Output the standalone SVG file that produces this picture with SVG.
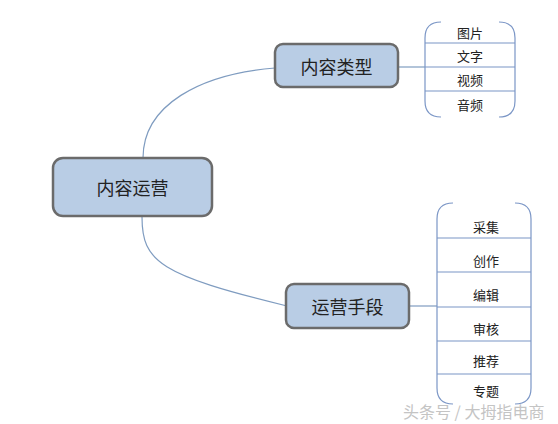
<svg xmlns="http://www.w3.org/2000/svg" width="558" height="424" viewBox="0 0 558 424">
<style>
.node{fill:#b9cde5;stroke:#6b6b6b;stroke-width:2.5}
.conn{fill:none;stroke:#7f9cc0;stroke-width:1.2}
.list{fill:none;stroke:#7b96c6;stroke-width:1.2}
.t{font-family:"Noto Sans CJK SC","Liberation Sans",sans-serif;fill:#222;text-anchor:middle;dominant-baseline:central}
.big{font-size:18px}
.mid{font-size:18px}
.sm{font-size:13px}
.wm{font-family:"Noto Sans CJK SC","Liberation Sans",sans-serif;font-size:16px;fill:#c4c4c4}
</style>
<rect width="558" height="424" fill="#ffffff"/>
<g id="connectors">
<path class="conn" d="M143,158 C143,105 200,74 275,68"/>
<path class="conn" d="M142,217 C142,262 160,275 287,306"/>
<path class="conn" d="M398,67 L425,67"/>
<path class="conn" d="M409,306 L437,306"/>
</g>
<g id="node-main">
<rect class="node" x="53" y="158" width="159" height="58" rx="10"/>
<text class="t big" x="132.5" y="187">内容运营</text>
</g>
<g id="node-type">
<rect class="node" x="275" y="44" width="123" height="43" rx="8"/>
<text class="t mid" x="336.5" y="65.5">内容类型</text>
</g>
<g id="node-means">
<rect class="node" x="286" y="284" width="123" height="44" rx="8"/>
<text class="t mid" x="347.5" y="306">运营手段</text>
</g>
<g id="list-type">
<path class="list" d="M441,22 Q425,22 425,38 L425,101 Q425,117 441,117"/>
<path class="list" d="M499,22 Q515,22 515,38 L515,101 Q515,117 499,117"/>
<path class="list" d="M425,43 H515 M425,67 H515 M425,91 H515"/>
<text class="t sm" x="470" y="32">图片</text>
<text class="t sm" x="470" y="55">文字</text>
<text class="t sm" x="470" y="79">视频</text>
<text class="t sm" x="470" y="104">音频</text>
</g>
<g id="list-means">
<path class="list" d="M453,203 Q437,203 437,219 L437,388 Q437,404 453,404"/>
<path class="list" d="M515,203 Q531,203 531,219 L531,388 Q531,404 515,404"/>
<path class="list" d="M437,238 H531 M437,272 H531 M437,307 H531 M437,341 H531 M437,374 H531"/>
<text class="t sm" x="486" y="226">采集</text>
<text class="t sm" x="486" y="260">创作</text>
<text class="t sm" x="486" y="294">编辑</text>
<text class="t sm" x="486" y="328">审核</text>
<text class="t sm" x="486" y="360">推荐</text>
<text class="t sm" x="486" y="390">专题</text>
</g>
<text class="wm" x="403" y="418">头条号 / 大拇指电商</text>
</svg>
